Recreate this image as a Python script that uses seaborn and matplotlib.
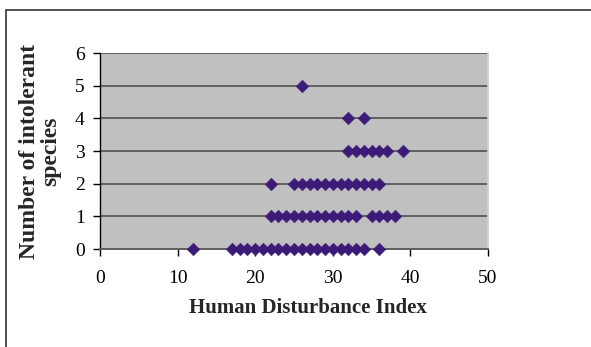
import matplotlib
matplotlib.use("Agg")
import matplotlib.pyplot as plt
import seaborn as sns
import pandas as pd
from matplotlib.patches import Rectangle

# Data
hdi_0 = [12, 17, 18, 19, 20, 21, 22, 23, 24, 25, 26, 27, 28, 29, 30, 31, 32, 33, 34, 36]
hdi_1 = [22, 23, 24, 25, 26, 27, 28, 29, 30, 31, 32, 33, 35, 36, 37, 38]
hdi_2 = [22, 25, 26, 27, 28, 29, 30, 31, 32, 33, 34, 35, 36]
hdi_3 = [32, 33, 34, 35, 36, 37, 39]
hdi_4 = [32, 34]
hdi_5 = [26]
x_ticks = [0, 10, 20, 30, 40, 50]
y_ticks = [0, 1, 2, 3, 4, 5, 6]

xs, ys = [], []
for count, vals in enumerate([hdi_0, hdi_1, hdi_2, hdi_3, hdi_4, hdi_5]):
    xs += vals
    ys += [count] * len(vals)
df = pd.DataFrame({"Human Disturbance Index": xs, "Number of intolerant species": ys})

sns.set_theme(style="white")
plt.rcParams['font.family'] = ['Liberation Serif', 'DejaVu Serif']

fig = plt.figure(figsize=(5.91, 3.47), dpi=100)
fig.patches.append(Rectangle((6 / 591, -0.1), 1.2, (347 - 10) / 347 + 0.1,
                             transform=fig.transFigure, fill=False,
                             edgecolor='#333333', linewidth=1.2, zorder=0))
ax = fig.add_axes([100 / 591, 98 / 347, 388 / 591, 196 / 347])
ax.set_facecolor('#C0C0C0')

for yv in y_ticks:
    ax.axhline(yv, color='#606060', linewidth=1.4, zorder=1)

sns.scatterplot(data=df, x="Human Disturbance Index", y="Number of intolerant species",
                marker='D', s=42, color='#3C1A78', edgecolor='#3C1A78', linewidth=0.3,
                ax=ax, zorder=3, clip_on=False)

ax.set_xlim(0, 50)
ax.set_ylim(0, 6)
ax.set_xticks(x_ticks)
ax.set_yticks(y_ticks)
ax.tick_params(axis='both', which='both', direction='out', length=5, width=1,
               color='black', labelsize=14, labelcolor='black')
ax.tick_params(axis='x', pad=10)
ax.tick_params(axis='y', pad=6)
ax.tick_params(left=True, bottom=True)
ax.spines['top'].set_visible(False)
ax.spines['right'].set_color('#D0D0D0')
ax.spines['left'].set_color('black')
ax.spines['bottom'].set_color('#606060')
ax.spines['bottom'].set_linewidth(1.4)
ax.spines['left'].set_linewidth(1.0)

ax.set_xlabel("Human Disturbance Index", fontsize=15, fontweight='bold')
ax.xaxis.set_label_coords(0.536, -0.25)
ax.set_ylabel("Number of intolerant\nspecies", fontsize=17, fontweight='bold',
              linespacing=1.0)
ax.yaxis.set_label_coords(-0.10, 0.5)

fig.savefig("out.png", dpi=100)
